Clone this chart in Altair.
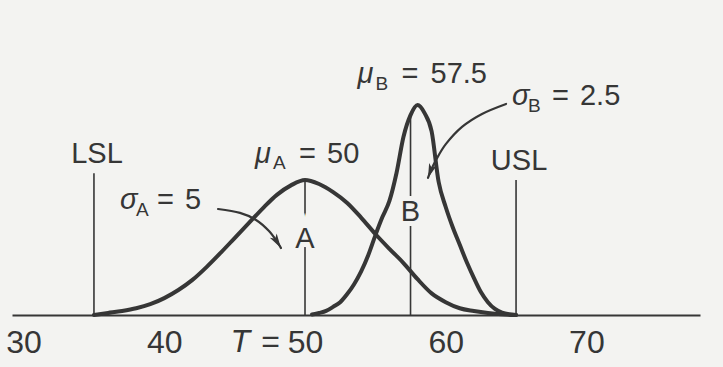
import altair as alt
import pandas as pd

# ---- data -----------------------------------------------------------------
# Relative curve heights (process A peak = 100)
a_x = [35, 36, 37, 38, 39, 40, 41, 42, 43, 44, 45, 46, 47, 48, 49, 50,
       51, 52, 53, 54, 55, 56, 57, 58, 59, 60, 61, 62, 63, 64, 65]
a_h = [0, 1.5, 3, 5, 8, 12.5, 18.5, 26, 35.5, 46, 57, 68, 79, 89, 96, 100,
       97, 91, 83, 72, 60, 49, 38.5, 26.5, 16, 9.5, 5, 3, 1.5, 0.5, 0]

b_x = [50.5, 51.0, 51.5, 52.0, 52.5, 53.0, 53.5, 54.0, 54.5, 55.0,
       55.5, 56.0, 56.5, 57.0, 57.5, 58.0, 58.5, 59.0, 59.5, 60.0,
       60.5, 61.0, 61.5, 62.0, 62.5, 63.0, 63.5, 64.0, 64.5, 65.0]
b_h = [0.4, 1.5, 3, 6, 9.5, 15.5, 23, 32.5, 44.5, 59,
       72.5, 84.5, 105, 132, 148, 155.5, 149.5, 136, 98.5, 80,
       65, 52, 39, 27.5, 17, 9.5, 4.5, 1.8, 0.5, 0]

proc_names = ["A", "B"]
proc_mean = [50, 57.5]
proc_sigma = [5, 2.5]

spec_names = ["LSL", "USL"]
spec_x = [35, 65]

axis_ticks = [30, 40, 50, 60, 70]
target = 50

# ---- styling / layout -----------------------------------------------------
FONT = "Liberation Sans"
INK = "#363636"
BG = "#f3f3f1"
LABEL_SIZE = 29
SUB_SIZE = 19
TICK_SIZE = 32

xs = alt.Scale(domain=[29.175, 78.074], nice=False, zero=False)
ys = alt.Scale(domain=[0, 233.3], nice=False, zero=False)

# one shared x-axis definition, used by every layer so the axes merge
X_AXIS = alt.Axis(
    orient="bottom", values=axis_ticks, title=None, ticks=False, tickSize=0,
    grid=False, labelFont=FONT, labelFontSize=TICK_SIZE, labelColor=INK,
    labelBaseline="alphabetic", labelPadding=37, labelFlush=False,
    labelOverlap=False, domainColor=INK, domainWidth=1.8,
)

one = pd.DataFrame({"k": [0]})


def xf(field):
    return alt.X(field, scale=xs, axis=X_AXIS)


def yf(field):
    return alt.Y(field, scale=ys, axis=None)


def xd(v):
    return alt.XDatum(v, scale=xs, axis=X_AXIS)


def yd(v):
    return alt.YDatum(v, scale=ys, axis=None)


# ---- distribution curves --------------------------------------------------
curves = pd.DataFrame({
    "process": ["A"] * len(a_x) + ["B"] * len(b_x),
    "x": a_x + b_x,
    "h": a_h + b_h,
})

curve_layer = alt.Chart(curves).mark_line(
    strokeWidth=4, color=INK, interpolate="monotone",
    strokeCap="round", strokeJoin="round",
).encode(x=xf("x:Q"), y=yf("h:Q"), detail="process:N")

# ---- specification limits -------------------------------------------------
spec_top = {"LSL": 105, "USL": 100}
spec_df = pd.DataFrame({
    "name": spec_names,
    "x": spec_x,
    "base": [0, 0],
    "top": [spec_top[n] for n in spec_names],
})

spec_rules = alt.Chart(spec_df).mark_rule(strokeWidth=1.6, color=INK).encode(
    x=xf("x:Q"), y=yf("base:Q"), y2="top:Q",
)
spec_text = alt.Chart(spec_df).mark_text(
    font=FONT, fontSize=LABEL_SIZE, color=INK, align="center",
    baseline="alphabetic", dx=3, dy=-10,
).encode(x=xf("x:Q"), y=yf("top:Q"), text="name:N")

# ---- process means --------------------------------------------------------
mean_top = [a_h[a_x.index(proc_mean[0])], b_h[b_x.index(proc_mean[1])]]
mean_df = pd.DataFrame({
    "name": proc_names,
    "mean": proc_mean,
    "base": [0, 0],
    "top": mean_top,
    "tag_h": [56, 76],
})

mean_rules = alt.Chart(mean_df).mark_rule(strokeWidth=1.6, color=INK).encode(
    x=xf("mean:Q"), y=yf("base:Q"), y2="top:Q",
)
tag_halo = alt.Chart(mean_df).mark_text(
    font=FONT, fontSize=LABEL_SIZE, align="center", baseline="middle",
    fill=BG, stroke=BG, strokeWidth=10,
).encode(x=xf("mean:Q"), y=yf("tag_h:Q"), text="name:N")
tag_text = alt.Chart(mean_df).mark_text(
    font=FONT, fontSize=LABEL_SIZE, align="center", baseline="middle",
    color=INK,
).encode(x=xf("mean:Q"), y=yf("tag_h:Q"), text="name:N")


# ---- parameter annotations (symbol, subscript, value) ---------------------
def composite(x, h, parts):
    layers = []
    for txt, dx, dy, size, italic in parts:
        layers.append(
            alt.Chart(one).mark_text(
                text=txt, font=FONT, fontSize=size, color=INK,
                fontStyle="italic" if italic else "normal",
                align="left", baseline="alphabetic", dx=dx, dy=dy,
            ).encode(x=xd(x), y=yd(h))
        )
    return layers


ann = []
ann += composite(proc_mean[0], 112.6, [
    ("μ", -50, 0, LABEL_SIZE, True),
    (proc_names[0], -32, 6, SUB_SIZE, False),
    ("=", -6, 0, LABEL_SIZE, False),
    (f"{proc_mean[0]:g}", 22, 0, LABEL_SIZE, False),
])
ann += composite(proc_mean[1], 171.9, [
    ("μ", -53, 0, LABEL_SIZE, True),
    (proc_names[1], -35, 7, SUB_SIZE, False),
    ("=", -9, 0, LABEL_SIZE, False),
    (f"{proc_mean[1]:g}", 20, 0, LABEL_SIZE, False),
])
ann += composite(36.85, 78.5, [
    ("σ", 0, 0, LABEL_SIZE, True),
    (proc_names[0], 16, 7, SUB_SIZE, False),
    ("=", 37, 0, LABEL_SIZE, False),
    (f"{proc_sigma[0]:g}", 65, 0, LABEL_SIZE, False),
])
ann += composite(64.71, 155.6, [
    ("σ", 0, 0, LABEL_SIZE, True),
    (proc_names[1], 16, 7, SUB_SIZE, False),
    ("=", 40, 0, LABEL_SIZE, False),
    (f"{proc_sigma[1]:g}", 68, 0, LABEL_SIZE, False),
])

# target marker text next to the 50 tick label
target_eq = alt.Chart(one).mark_text(
    text="=", font=FONT, fontSize=TICK_SIZE, color=INK, align="right",
    baseline="alphabetic", dx=-25, dy=37,
).encode(x=xd(target), y=yd(0))
target_t = alt.Chart(one).mark_text(
    text="T", font=FONT, fontSize=TICK_SIZE, color=INK, align="right",
    fontStyle="italic", baseline="alphabetic", dx=-55, dy=37,
).encode(x=xd(target), y=yd(0))

# ---- arrows from the sigma labels -----------------------------------------
arrow_df = pd.DataFrame({
    "arrow": ["A"] * 6 + ["B"] * 7,
    "step": list(range(6)) + list(range(7)),
    "x": [43.82, 45.38, 46.52, 47.44, 48.08, 48.29,
          64.29, 62.58, 61.16, 60.02, 59.31, 58.96, 58.74],
    "h": [78.5, 75.6, 70.4, 62.2, 53.3, 49.6,
          156.3, 148.9, 139.3, 126.7, 114.8, 107.4, 101.5],
})
arrow_lines = alt.Chart(arrow_df).mark_line(
    strokeWidth=2.2, color=INK, interpolate="cardinal", strokeCap="round",
).encode(x=xf("x:Q"), y=yf("h:Q"), detail="arrow:N", order="step:Q")

HEAD = "M0,0 L0.5,1.8 L0,1.35 L-0.5,1.8 Z"
tips = arrow_df.groupby("arrow").tail(1)
heads = []
for arrow_id, ang in [("A", 148), ("B", 200)]:
    heads.append(
        alt.Chart(tips[tips["arrow"] == arrow_id]).mark_point(
            shape=HEAD, filled=True, size=260, color=INK, opacity=1,
            angle=ang, strokeWidth=0,
        ).encode(x=xf("x:Q"), y=yf("h:Q"))
    )

chart = alt.layer(
    curve_layer, spec_rules, mean_rules, tag_halo, tag_text, spec_text,
    arrow_lines, *heads, *ann, target_eq, target_t,
).properties(
    width=688, height=315,
    padding={"left": 12, "right": 23, "top": 0, "bottom": 52},
    autosize=alt.AutoSizeParams(type="none"),
    background=BG,
).configure_view(stroke=None)

chart.save("out.html", embed_options={"renderer": "svg", "actions": False})
